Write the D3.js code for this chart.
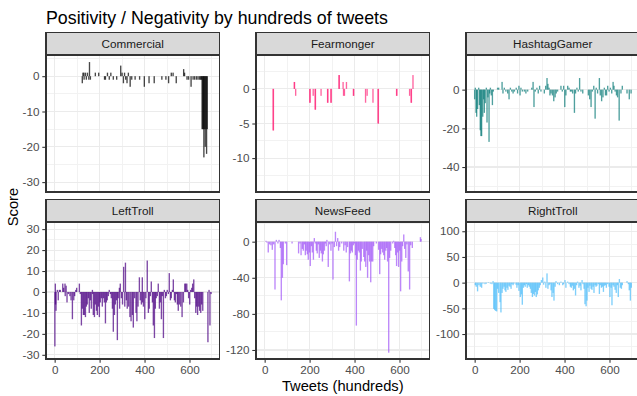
<!DOCTYPE html>
<html>
<head>
<meta charset="utf-8">
<script src="https://cdn.jsdelivr.net/npm/d3@7"></script>
<style>
  body { margin: 0; background: #fff; }
  text { font-family: "Liberation Sans", Arial, sans-serif; }
</style>
</head>
<body>
<div id="chart"></div>
<script>
// one [tweet hundred, score] pair per bar
const commercial = [[123,-2],[126,1],[130,1],[131,-1],[137,1],[141,-1],[146,1],[152,-1],[155,4],[159,-1],[181,1],[196,1],[222,-1],[226,-1],[235,1],[243,-1],[250,1],[261,-1],[276,-1],[294,3],[300,1],[306,-2],[311,1],[316,-1],[322,-2],[328,1],[336,-3],[343,-1],[358,-1],[378,-1],[399,-3],[420,-2],[443,-2],[477,-1],[495,-1],[507,-2],[519,1],[527,1],[541,-2],[574,2],[578,1],[589,-1],[596,-1],[607,-3],[616,-1],[623,-1],[631,-1],[638,-1],[645,-1],[650,-1],[653,-1],[656,-15],[659,-15],[662,-15],[664,-23],[667,-15],[670,-20],[673,-15],[676,-22],[679,-15]];

const fearmonger = [[38,-6],[39,-6],[132,1],[133,1],[138,-1],[201,-2],[202,-2],[216,-1],[225,-3],[226,-3],[251,-1],[280,-2],[281,-2],[295,-2],[296,-2],[331,2],[332,2],[349,1],[351,-1],[355,-1],[364,1],[395,-1],[396,-1],[449,-2],[456,-1],[482,-2],[505,-5],[506,-5],[587,-1],[588,-1],[645,-1],[652,-2],[653,-2],[660,2]];

const hashtagGamer = [[0,-5],[3,1],[6,-12],[9,-14],[13,-10],[18,1],[21,-8],[25,-21],[28,-24],[31,-24],[36,-14],[40,-5],[43,-12],[47,-7],[52,1],[55,-17],[59,-4],[64,-27],[67,-2],[70,1],[74,-3],[79,-8],[83,-1],[102,1],[107,1],[122,4],[126,-2],[132,1],[139,-1],[147,-2],[153,-5],[159,1],[165,-1],[171,-2],[177,-1],[185,1],[191,-2],[197,2],[202,-3],[206,1],[212,-1],[221,-1],[228,-2],[236,-1],[254,1],[260,4],[264,-9],[270,-1],[277,1],[283,-2],[289,2],[295,-1],[310,-2],[316,2],[322,6],[326,3],[331,1],[335,-3],[340,-2],[346,-3],[352,-6],[358,-4],[363,-2],[369,-1],[384,2],[390,-1],[396,2],[401,-9],[406,-3],[414,2],[420,1],[426,-1],[430,-1],[436,-2],[444,-12],[449,-2],[455,1],[461,-1],[467,6],[473,-1],[481,-2],[506,-3],[512,-5],[518,-9],[524,-1],[530,2],[536,-15],[541,1],[547,-2],[555,6],[559,-3],[565,-6],[571,-4],[577,1],[582,-3],[587,-3],[592,2],[598,-1],[604,1],[610,-2],[616,4],[620,2],[625,-1],[631,-3],[636,-4],[643,-16],[651,-2],[657,2],[678,-2],[688,-5],[696,-2]];

const leftTroll = [[1,-26],[3,4],[4,-6],[6,-9],[12,1],[16,-4],[21,1],[25,1],[36,4],[40,2],[46,4],[47,-2],[51,3],[55,-5],[61,-1],[68,-2],[73,-4],[79,-13],[85,-4],[89,-2],[94,1],[98,2],[110,4],[114,-1],[119,-16],[123,-8],[128,-11],[132,-11],[137,-12],[141,-7],[145,-6],[150,-3],[154,-10],[159,-4],[163,-8],[168,1],[169,-1],[172,-11],[177,-12],[181,-6],[186,-9],[190,-11],[195,-7],[199,-12],[203,-5],[208,-3],[212,-7],[217,-3],[221,-5],[226,-15],[230,-5],[234,-4],[239,-2],[243,1],[248,-1],[252,-3],[257,-8],[261,-19],[266,-11],[270,-6],[275,-4],[279,-23],[283,-3],[288,2],[289,-8],[292,4],[297,-3],[302,-6],[307,12],[312,-7],[315,14],[319,-4],[323,-8],[329,-7],[335,-12],[340,-14],[346,-11],[350,-17],[356,-3],[362,-10],[366,-14],[371,-7],[377,7],[381,-4],[386,-6],[390,7],[391,-5],[395,-7],[401,-13],[406,-3],[412,15],[417,-10],[421,-8],[426,-2],[430,5],[435,-5],[439,-16],[444,-22],[448,-8],[452,-3],[457,-2],[461,4],[466,-8],[470,-5],[475,-13],[479,-2],[484,-22],[488,1],[493,-3],[497,-2],[501,1],[506,-1],[510,9],[515,-4],[519,-3],[524,1],[528,6],[533,-4],[537,-5],[542,-1],[546,-6],[550,-9],[555,-6],[561,-7],[567,-12],[573,-5],[579,4],[583,4],[588,4],[592,1],[596,-3],[601,-6],[605,1],[610,2],[614,4],[619,6],[623,-3],[628,-10],[632,-7],[636,-11],[641,-7],[645,-9],[650,-10],[654,-6],[659,-9],[682,-24],[687,1],[691,-16],[696,-1]];

const newsFeed = [[6,1],[10,-1],[16,-12],[22,-3],[28,-4],[34,-9],[40,-3],[46,-53],[52,2],[59,-2],[64,2],[70,-7],[74,-65],[79,-40],[83,-25],[92,-2],[98,-26],[122,-2],[151,-13],[157,-2],[162,-15],[168,-8],[172,-10],[177,-3],[181,-15],[185,-10],[190,-14],[194,-20],[199,-12],[203,-27],[208,-5],[212,-12],[217,-20],[221,4],[225,-2],[230,-10],[234,-13],[239,-3],[243,-18],[248,-10],[252,-13],[257,-22],[261,-14],[266,-10],[270,-2],[274,-5],[277,2],[283,-28],[289,-3],[295,-10],[300,-2],[304,-42],[310,-6],[315,11],[320,-5],[325,4],[329,-10],[334,-6],[343,-2],[352,-10],[358,-4],[363,-12],[369,-6],[377,-44],[381,-13],[386,-10],[390,-12],[395,-4],[399,-2],[404,-15],[408,-93],[412,-20],[417,-10],[421,-12],[426,-32],[430,-22],[435,-8],[441,-17],[445,-22],[450,-28],[454,-10],[458,-40],[463,-15],[467,-22],[472,-45],[476,-22],[481,-22],[485,-5],[497,-2],[507,-9],[512,-36],[516,-14],[521,-8],[525,-12],[530,-15],[534,-20],[539,-10],[543,-7],[547,-22],[552,-123],[556,-18],[561,-10],[570,-2],[574,1],[579,-7],[583,-15],[587,-27],[592,-12],[596,-28],[601,-10],[605,-55],[610,-22],[614,-5],[619,8],[623,-8],[628,-18],[633,-3],[639,-33],[645,-53],[650,-4],[657,-7],[693,5],[696,3]];

const rightTroll = [[3,-5],[7,-8],[13,-17],[19,-5],[25,-8],[31,-10],[37,-2],[46,-3],[52,-2],[61,1],[70,-2],[77,-3],[82,3],[85,-51],[89,-53],[93,-55],[98,-56],[102,-12],[107,-20],[113,-38],[117,-58],[122,-20],[126,-12],[131,-8],[135,-15],[139,-18],[144,-10],[148,-14],[153,-6],[157,-8],[162,-12],[166,-3],[171,-5],[175,-2],[184,-4],[188,-10],[193,-5],[197,-16],[203,-28],[208,-23],[212,-43],[217,-10],[221,-5],[225,-8],[230,-3],[234,-10],[239,-5],[243,-8],[248,-12],[252,-20],[257,-28],[261,-22],[266,-25],[270,-18],[274,-28],[279,-23],[283,-15],[288,-10],[292,-5],[297,5],[303,10],[307,-4],[312,2],[317,-10],[322,18],[326,-12],[331,-5],[335,-3],[340,-15],[344,-28],[349,-20],[353,-35],[358,-8],[362,3],[369,-3],[377,-5],[384,2],[392,-5],[396,-3],[402,5],[406,-10],[414,2],[420,-3],[426,-8],[430,-10],[435,-6],[439,-15],[444,-12],[449,-25],[454,-5],[458,2],[464,-10],[469,-6],[473,-15],[478,5],[482,-3],[487,-12],[491,-42],[496,-46],[500,-35],[504,-10],[509,-18],[513,-6],[518,-12],[522,-14],[527,-8],[531,-20],[536,-5],[540,-8],[544,-6],[550,-3],[555,-22],[559,-5],[564,-10],[568,-8],[573,-18],[577,-6],[582,-5],[586,-10],[592,-3],[598,-8],[602,-28],[607,-10],[611,-44],[616,-5],[620,-8],[625,-14],[630,-20],[635,-5],[639,-28],[644,7],[648,-10],[653,-12],[657,-5],[678,3],[684,-3],[688,-15],[693,-35],[697,-10]];

const categories = ["Commercial", "Fearmonger", "HashtagGamer", "LeftTroll", "NewsFeed", "RightTroll"];
const series = [commercial, fearmonger, hashtagGamer, leftTroll, newsFeed, rightTroll];
const colors = ["#000000", "#ff2b7d", "#0b7b78", "#4b0082", "#a259f7", "#4dbdf9"];

const xTicks = [0, 200, 400, 600];
const xMinor = [100, 300, 500, 700];
const yTicks = [[0, -10, -20, -30], [0, -5, -10], [0, -20, -40], [30, 20, 10, 0, -10, -20, -30], [0, -40, -80, -120], [100, 50, 0, -50, -100]];
const yLimits = [[-32.8, 6], [-14.9, 4.9], [-52.9, 17.9], [-32, 33.4], [-130, 21.8], [-148.6, 118]];

var width = 637, height = 396;
var panelW = 173.5, panelH = 137, stripH = 22.5;
var panelLeft = [46, 256, 466];
var panelTop = [55, 222];

var svg = d3.select("#chart").append("svg")
  .attr("width", width)
  .attr("height", height);

var x = d3.scaleLinear().domain([-38.5, 733.5]).range([0, panelW]);
var barW = x(6) - x(0);

function minorOf(ticks, domain) {
  var t = ticks.slice().sort(d3.ascending);
  var step = t[1] - t[0];
  var out = [];
  for (var k = -1; k < t.length; k++) {
    var m = (k < 0 ? t[0] - step : t[k]) + step / 2;
    if (m > domain[0] && m < domain[1]) out.push(m);
  }
  return out;
}

categories.forEach(function(name, i) {
  var col = i % 3, row = Math.floor(i / 3);
  var g = svg.append("g")
    .attr("transform", "translate(" + panelLeft[col] + "," + panelTop[row] + ")");

  var y = d3.scaleLinear().domain(yLimits[i]).range([panelH, 0]);

  // grid
  var grid = g.append("g").attr("shape-rendering", "crispEdges");
  grid.selectAll(".ymin").data(minorOf(yTicks[i], yLimits[i])).enter().append("line")
    .attr("x1", 0).attr("x2", panelW)
    .attr("y1", function(d) { return y(d); }).attr("y2", function(d) { return y(d); })
    .attr("stroke", "#f2f2f2").attr("stroke-width", 1);
  grid.selectAll(".xmin").data(xMinor).enter().append("line")
    .attr("y1", 0).attr("y2", panelH)
    .attr("x1", function(d) { return x(d); }).attr("x2", function(d) { return x(d); })
    .attr("stroke", "#f2f2f2").attr("stroke-width", 1);
  grid.selectAll(".ymaj").data(yTicks[i]).enter().append("line")
    .attr("x1", 0).attr("x2", panelW)
    .attr("y1", function(d) { return y(d); }).attr("y2", function(d) { return y(d); })
    .attr("stroke", "#ebebeb").attr("stroke-width", 1.1);
  grid.selectAll(".xmaj").data(xTicks).enter().append("line")
    .attr("y1", 0).attr("y2", panelH)
    .attr("x1", function(d) { return x(d); }).attr("x2", function(d) { return x(d); })
    .attr("stroke", "#ebebeb").attr("stroke-width", 1.1);

  // bars
  g.selectAll("rect.bar").data(series[i]).enter().append("rect")
    .attr("class", "bar")
    .attr("x", function(d) { return x(d[0]) - barW / 2; })
    .attr("y", function(d) { return y(Math.max(0, d[1])); })
    .attr("width", barW)
    .attr("height", function(d) { return Math.abs(y(d[1]) - y(0)); })
    .attr("fill", colors[i])
    .attr("fill-opacity", 0.72);

  // border
  g.append("rect")
    .attr("width", panelW).attr("height", panelH)
    .attr("fill", "none").attr("stroke", "#333333").attr("stroke-width", 1.07)
    .attr("shape-rendering", "crispEdges");

  // strip
  g.append("rect")
    .attr("y", -stripH).attr("width", panelW).attr("height", stripH)
    .attr("fill", "#d9d9d9").attr("stroke", "#333333").attr("stroke-width", 1.07)
    .attr("shape-rendering", "crispEdges");
  g.append("text")
    .attr("x", panelW / 2).attr("y", -stripH / 2).attr("dy", "0.35em")
    .attr("text-anchor", "middle")
    .attr("font-size", "11.7px").attr("fill", "#1a1a1a")
    .text(name);

  // y axis
  var ya = g.append("g")
    .call(d3.axisLeft(y).tickValues(yTicks[i]).tickSize(3.7).tickPadding(2.9)
      .tickFormat(function(d) { return String(d); }));
  ya.select(".domain").remove();
  ya.selectAll("line").attr("stroke", "#333333").attr("stroke-width", 1.07);
  ya.selectAll("text").attr("fill", "#4d4d4d").attr("font-size", "11.7px")
    .attr("font-family", "'Liberation Sans', Arial, sans-serif");

  // x axis on bottom row
  if (row === 1) {
    var xa = g.append("g")
      .attr("transform", "translate(0," + panelH + ")")
      .call(d3.axisBottom(x).tickValues(xTicks).tickSize(3.7).tickPadding(2.9)
        .tickFormat(function(d) { return String(d); }));
    xa.select(".domain").remove();
    xa.selectAll("line").attr("stroke", "#333333").attr("stroke-width", 1.07);
    xa.selectAll("text").attr("fill", "#4d4d4d").attr("font-size", "11.7px")
      .attr("font-family", "'Liberation Sans', Arial, sans-serif");
  }
});

svg.append("text")
  .attr("x", 46).attr("y", 23.5)
  .attr("font-size", "17.8px").attr("fill", "#000")
  .text("Positivity / Negativity by hundreds of tweets");

svg.append("text")
  .attr("transform", "translate(13,207) rotate(-90)")
  .attr("dy", "0.35em")
  .attr("text-anchor", "middle")
  .attr("font-size", "14.7px").attr("fill", "#000")
  .text("Score");

svg.append("text")
  .attr("x", (panelLeft[0] + panelLeft[2] + panelW) / 2).attr("y", 391)
  .attr("text-anchor", "middle")
  .attr("font-size", "14.7px").attr("fill", "#000")
  .text("Tweets (hundreds)");
</script>
</body>
</html>
